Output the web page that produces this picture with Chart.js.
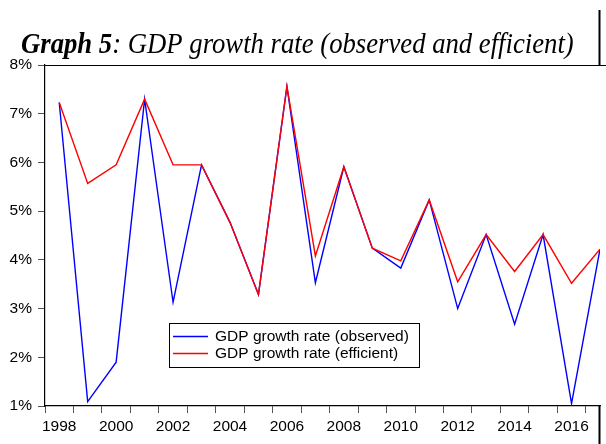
<!DOCTYPE html>
<html>
<head>
<meta charset="utf-8">
<script src="https://cdn.jsdelivr.net/npm/chart.js@4.4.1/dist/chart.umd.min.js"></script>
<style>
  html, body { margin: 0; padding: 0; background: #fff; }
  #wrap { position: relative; width: 606px; height: 444px; }
</style>
</head>
<body>
<div id="wrap"><canvas id="c" width="606" height="444"></canvas></div>
<script>
// ---- data ----
const years = [1998, 1999, 2000, 2001, 2002, 2003, 2004, 2005, 2006, 2007,
               2008, 2009, 2010, 2011, 2012, 2013, 2014, 2015, 2016, 2017];
const observed = [7.23, 1.09, 1.90, 7.30, 3.13, 5.95, 4.77, 3.29, 7.56, 3.53,
                  5.91, 4.24, 3.83, 5.23, 3.00, 4.52, 2.68, 4.52, 1.05, 4.22];
const efficient = [7.23, 5.57, 5.95, 7.30, 5.95, 5.95, 4.77, 3.29, 7.56, 4.08,
                   5.91, 4.24, 3.98, 5.23, 3.55, 4.52, 3.76, 4.52, 3.52, 4.22];
const seriesLabels = ['GDP growth rate (observed)', 'GDP growth rate (efficient)'];
const xLabelYears = [1998, 2000, 2002, 2004, 2006, 2008, 2010, 2012, 2014, 2016];
const yTickValues = [1, 2, 3, 4, 5, 6, 7, 8];
const titleBold = 'Graph 5';
const titleRest = ': GDP growth rate (observed and efficient)';

const FONT = "'Liberation Sans', Arial, sans-serif";

// tick positions: period boundaries (marks) + even years (labels)
const xTicks = [];
for (let v = 1997.5; v <= 2017.001; v += 0.5) xTicks.push(Math.round(v * 10) / 10);

const framePlugin = {
  id: 'frame',
  afterDraw(chart) {
    const ctx = chart.ctx, a = chart.chartArea;
    ctx.save();
    // top frame line
    ctx.strokeStyle = '#000';
    ctx.lineWidth = 1.2;
    ctx.beginPath();
    ctx.moveTo(a.left, a.top + 0.5);
    ctx.lineTo(chart.width, a.top + 0.5);
    ctx.stroke();
    // right page rule segments
    ctx.lineWidth = 2;
    ctx.beginPath();
    ctx.moveTo(599.5, 10); ctx.lineTo(599.5, a.top);
    ctx.moveTo(599.5, a.bottom); ctx.lineTo(599.5, chart.height);
    ctx.stroke();

    // title
    ctx.fillStyle = '#000';
    ctx.textBaseline = 'alphabetic';
    ctx.translate(21, 52.5);
    ctx.scale(1, 1.12);
    ctx.font = "bold italic 26.7px 'Liberation Serif', 'Times New Roman', serif";
    ctx.fillText(titleBold, 0, 0);
    const w = ctx.measureText(titleBold).width;
    ctx.font = "italic 26.7px 'Liberation Serif', 'Times New Roman', serif";
    ctx.fillText(titleRest, w, 0);
    ctx.restore();

    // legend box
    ctx.save();
    const bx = 169.5, by = 323.5, bw = 250, bh = 44;
    ctx.fillStyle = '#fff';
    ctx.fillRect(bx, by, bw, bh);
    ctx.strokeStyle = '#000';
    ctx.lineWidth = 1;
    ctx.strokeRect(bx, by, bw, bh);
    ctx.font = '15.5px ' + FONT;
    ctx.textBaseline = 'middle';
    chart.data.datasets.forEach((ds, i) => {
      const y = 336.5 + i * 17;
      ctx.strokeStyle = ds.borderColor;
      ctx.lineWidth = 1.4;
      ctx.beginPath();
      ctx.moveTo(173, y); ctx.lineTo(208, y);
      ctx.stroke();
      ctx.fillStyle = '#000';
      ctx.fillText(ds.label, 215, y + 0.5);
    });
    ctx.restore();
  }
};

new Chart(document.getElementById('c'), {
  type: 'line',
  data: {
    datasets: [
      {
        label: seriesLabels[0],
        data: years.map((y, i) => ({ x: y, y: observed[i] })),
        borderColor: '#0000ff',
        borderWidth: 1.4,
        pointRadius: 0,
        tension: 0,
        order: 1
      },
      {
        label: seriesLabels[1],
        data: years.map((y, i) => ({ x: y, y: efficient[i] })),
        borderColor: '#ff0000',
        borderWidth: 1.4,
        pointRadius: 0,
        tension: 0,
        order: 0
      }
    ]
  },
  options: {
    responsive: false,
    animation: false,
    layout: { padding: { top: 65, right: 6, left: 0, bottom: 0 } },
    plugins: { legend: { display: false }, tooltip: { enabled: false }, title: { display: false } },
    scales: {
      x: {
        type: 'linear',
        min: 1997.5,
        max: 2017,
        afterBuildTicks: s => { s.ticks = xTicks.map(v => ({ value: v })); },
        afterFit: s => { s.height = 38; },
        ticks: {
          autoSkip: false,
          maxRotation: 0,
          minRotation: 0,
          padding: 4,
          color: '#000',
          font: { family: FONT, size: 15.5 },
          callback: v => xLabelYears.includes(v) ? String(v) : ''
        },
        grid: {
          drawOnChartArea: false,
          drawTicks: true,
          tickLength: 7,
          tickWidth: 1,
          tickColor: c => (c.tick && Number.isInteger(c.tick.value)) ? 'rgba(0,0,0,0)' : '#555'
        },
        border: { display: true, color: '#000', width: 1.2 }
      },
      y: {
        min: 1,
        max: 8,
        afterBuildTicks: s => { s.ticks = yTickValues.map(v => ({ value: v })); },
        afterFit: s => { s.width = 45; },
        ticks: {
          padding: 6,
          color: '#000',
          font: { family: FONT, size: 15.5 },
          callback: v => v + '%'
        },
        grid: {
          drawOnChartArea: false,
          drawTicks: true,
          tickLength: 7,
          tickColor: '#555'
        },
        border: { display: true, color: '#000', width: 1.2 }
      }
    }
  },
  plugins: [framePlugin]
});
</script>
</body>
</html>
